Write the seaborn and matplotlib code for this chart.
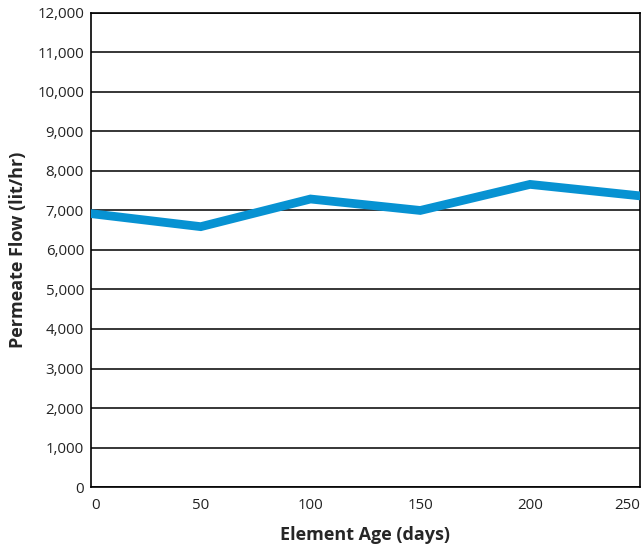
import pandas as pd
import matplotlib
matplotlib.use("Agg")
import matplotlib.pyplot as plt
import seaborn as sns

# values
age_days = [0, 50, 100, 150, 200, 250]
permeate_flow = [6920, 6590, 7290, 7000, 7660, 7370]
y_ticks = list(range(0, 12001, 1000))
x_ticks = [0, 50, 100, 150, 200, 250]

data1 = pd.DataFrame({"age": age_days, "flow": permeate_flow})

sns.set_style("white")
plt.rcParams["font.family"] = ["Open Sans", "DejaVu Sans"]

fig = plt.figure(figsize=(6.43, 5.5), dpi=100)
ax = fig.add_axes([0.1415, 0.1145, 0.8535, 0.862])

# black horizontal grid lines
for v in y_ticks:
    ax.axhline(v, color="black", lw=1.1, zorder=1)

sns.lineplot(data=data1, x="age", y="flow", color="#0792d2", lw=6.3,
             ax=ax, zorder=3, solid_joinstyle="miter")

ax.set_xlim(0, 250)
ax.set_ylim(0, 12000)
ax.set_yticks(y_ticks)
ax.set_yticklabels([f"{v:,}" for v in y_ticks], fontsize=10.8, color="#222222")
ax.set_xticks(x_ticks)
ax.set_xticklabels([str(v) for v in x_ticks], fontsize=10.8, color="#222222")
for lab, ha in zip(ax.get_xticklabels(), ["left", "center", "center", "center", "center", "right"]):
    lab.set_ha(ha)
ax.tick_params(axis="y", length=0, pad=5)
ax.tick_params(axis="x", length=0, pad=8)

for s in ax.spines.values():
    s.set_color("black")
    s.set_linewidth(1.2)

ax.set_xlabel("Element Age (days)", fontsize=13, fontweight="bold", labelpad=9)
ax.set_ylabel("Permeate Flow (lit/hr)", fontsize=13, fontweight="bold", labelpad=7)

fig.savefig("out.png", dpi=100)
